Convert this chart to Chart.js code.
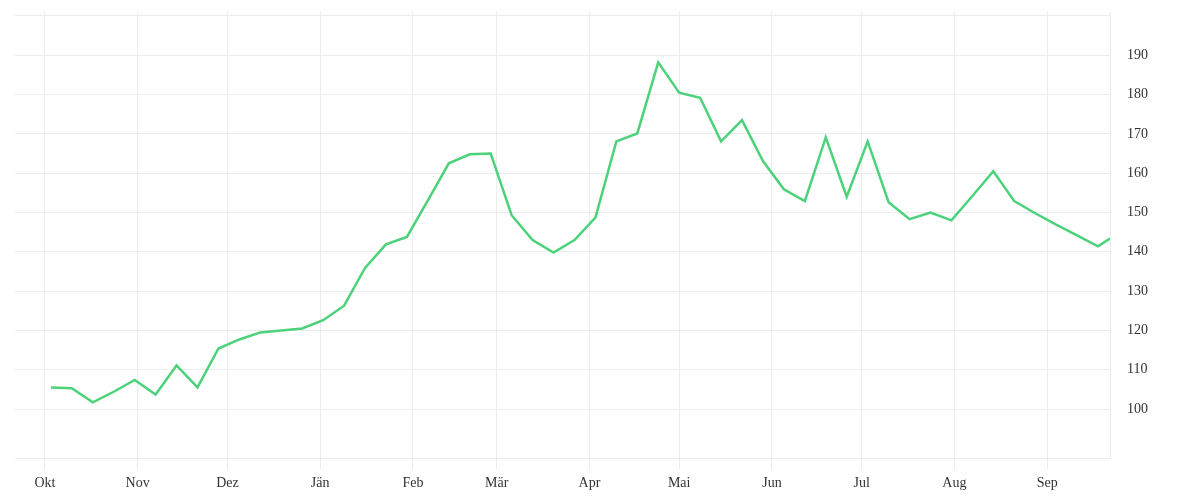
<!DOCTYPE html>
<html>
<head>
<meta charset="utf-8">
<script src="https://cdn.jsdelivr.net/npm/chart.js@4.4.0/dist/chart.umd.min.js"></script>
<style>
  html, body { margin: 0; padding: 0; background: #fff; }
  #wrap { width: 1200px; height: 500px; }
</style>
</head>
<body>
<div id="wrap"><canvas id="priceChart"></canvas></div>
<script>
// weekly observations
const dates = [
  '2018-10-03', '2018-10-10', '2018-10-17', '2018-10-24', '2018-10-31',
  '2018-11-07', '2018-11-14', '2018-11-21', '2018-11-28',
  '2018-12-05', '2018-12-12', '2018-12-19', '2018-12-26',
  '2019-01-02', '2019-01-09', '2019-01-16', '2019-01-23', '2019-01-30',
  '2019-02-06', '2019-02-13', '2019-02-20', '2019-02-27',
  '2019-03-06', '2019-03-13', '2019-03-20', '2019-03-27',
  '2019-04-03', '2019-04-10', '2019-04-17', '2019-04-24',
  '2019-05-01', '2019-05-08', '2019-05-15', '2019-05-22', '2019-05-29',
  '2019-06-05', '2019-06-12', '2019-06-19', '2019-06-26',
  '2019-07-03', '2019-07-10', '2019-07-17', '2019-07-24', '2019-07-31',
  '2019-08-07', '2019-08-14', '2019-08-21', '2019-08-28',
  '2019-09-04', '2019-09-11', '2019-09-18', '2019-09-22'
];

const values = [
  105.5, 105.3, 101.7, 104.4, 107.4,
  103.7, 111.1, 105.5, 115.4,
  117.7, 119.5, 120.0, 120.5,
  122.6, 126.3, 135.9, 141.9, 143.8,
  153.1, 162.5, 164.8, 165.0,
  149.3, 143.0, 139.8, 143.0,
  148.7, 168.1, 170.1, 188.2,
  180.5, 179.2, 168.1, 173.5, 163.1,
  155.9, 152.9, 169.1, 154.0,
  168.1, 152.6, 148.3, 150.0, 148.0,
  154.2, 160.5, 152.9, 149.8,
  146.9, 144.2, 141.4, 143.4
];

// x axis: month starts and their labels
const monthStarts = [
  '2018-10-01', '2018-11-01', '2018-12-01', '2019-01-01', '2019-02-01', '2019-03-01',
  '2019-04-01', '2019-05-01', '2019-06-01', '2019-07-01', '2019-08-01', '2019-09-01'
];
const monthLabels = ['Okt', 'Nov', 'Dez', 'Jän', 'Feb', 'Mär', 'Apr', 'Mai', 'Jun', 'Jul', 'Aug', 'Sep'];
const rangeStart = '2018-09-21';
const rangeEnd = '2019-09-22';

// y axis: grid lines and which of them carry a label
const yGridValues = [87.5, 100, 110, 120, 130, 140, 150, 160, 170, 180, 190, 200];
const yLabelValues = [100, 110, 120, 130, 140, 150, 160, 170, 180, 190];

const ORIGIN = Date.UTC(2018, 9, 1);
function dayOf(s) {
  const p = s.split('-').map(Number);
  return (Date.UTC(p[0], p[1] - 1, p[2]) - ORIGIN) / 86400000;
}

const points = dates.map((d, i) => ({ x: dayOf(d), y: values[i] }));
const monthDays = monthStarts.map(dayOf);

const gridColor = '#ececec';
const tickFont = { family: "'Liberation Serif', serif", size: 14 };

new Chart(document.getElementById('priceChart'), {
  type: 'line',
  data: {
    datasets: [{
      data: points,
      borderColor: '#4cd27a',
      borderWidth: 2.5,
      pointRadius: 0,
      tension: 0,
      fill: false
    }]
  },
  options: {
    responsive: true,
    maintainAspectRatio: false,
    animation: false,
    layout: { padding: { left: 15, top: 12, right: 35, bottom: 2 } },
    plugins: {
      legend: { display: false },
      tooltip: { enabled: false }
    },
    scales: {
      x: {
        type: 'linear',
        min: dayOf(rangeStart),
        max: dayOf(rangeEnd),
        afterBuildTicks: axis => {
          axis.ticks = monthDays.map(v => ({ value: v }));
        },
        grid: { color: gridColor, tickLength: 11 },
        border: { display: false },
        ticks: {
          autoSkip: false,
          maxRotation: 0,
          padding: 6,
          color: '#333',
          font: tickFont,
          callback: function(value) {
            const i = monthDays.indexOf(value);
            return i >= 0 ? monthLabels[i] : '';
          }
        }
      },
      y: {
        position: 'right',
        min: 87.5,
        max: 201,
        afterBuildTicks: axis => {
          axis.ticks = yGridValues.map(v => ({ value: v }));
        },
        // the hidden 200 label still reserves room on top; drop it
        afterFit: axis => {
          axis.paddingTop = 0;
        },
        grid: { color: gridColor, drawTicks: false },
        border: { display: true, color: gridColor },
        ticks: {
          padding: 17,
          color: '#333',
          font: tickFont,
          callback: function(value) {
            return yLabelValues.includes(value) ? String(value) : '';
          }
        }
      }
    }
  }
});
</script>
</body>
</html>
